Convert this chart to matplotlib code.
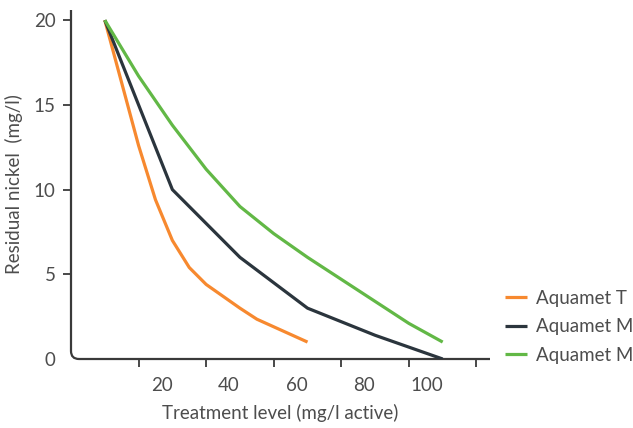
import matplotlib
matplotlib.use("Agg")
import matplotlib.pyplot as plt
from matplotlib.path import Path
from matplotlib.patches import PathPatch

# data
orange_x = [0, 5, 10, 15, 20, 25, 30, 35, 40, 45, 50, 55, 60]
orange_y = [20, 16.3, 12.6, 9.4, 7.0, 5.4, 4.4, 3.7, 3.0, 2.35, 1.9, 1.45, 1.0]

dark_x = [0, 20, 40, 60, 80, 100]
dark_y = [20, 10, 6, 3, 1.4, 0]

green_x = [0, 10, 20, 30, 40, 50, 60, 70, 80, 90, 100]
green_y = [20, 16.7, 13.8, 11.2, 9.0, 7.4, 6.0, 4.7, 3.4, 2.1, 1.0]

labels = ["Aquamet T", "Aquamet M", "Aquamet M"]
colors = ["#F7892F", "#2B353D", "#62B846"]

x_labels = [20, 40, 60, 80, 100]
x_ticks = [10, 30, 50, 70, 90, 110]
y_ticks = [0, 5, 10, 15, 20]

text_color = "#4d4d4d"
axis_color = "#3a3a3a"

plt.rcParams["font.family"] = ["Lato", "DejaVu Sans"]

fig = plt.figure(figsize=(6.33, 4.28), dpi=100)
ax = fig.add_axes([71 / 633, 1 - 359 / 428, (490 - 71) / 633, (359 - 10) / 428])

for xs, ys, lab, col in zip([orange_x, dark_x, green_x], [orange_y, dark_y, green_y], labels, colors):
    ax.plot(xs, ys, color=col, lw=2.3, label=lab, solid_capstyle="butt")

ax.set_xlim(-10, 114)
ax.set_ylim(0, 20.6)

# unlabeled tick marks between the labels
ax.set_xticks(x_ticks, labels=[""] * len(x_ticks))
ax.tick_params(axis="x", which="major", length=6, width=1.3, color=axis_color, direction="out")
ax.set_xticks(x_labels, labels=[str(v) for v in x_labels], minor=True)
ax.tick_params(axis="x", which="minor", length=0, pad=13, labelsize=13.5, labelcolor=text_color)
for t in ax.get_xticklabels(minor=True):
    t.set_ha("right")

ax.set_yticks(y_ticks, labels=[str(v) for v in y_ticks])
ax.tick_params(axis="y", length=6, width=1.3, color=axis_color, pad=5, labelsize=13.5, labelcolor=text_color)
ax.yaxis.get_major_ticks()[0].tick1line.set_visible(False)

for s in ax.spines.values():
    s.set_visible(False)

# axis lines with a rounded corner
w_px, h_px = 490 - 71, 359 - 10
rx, ry = 8 / w_px, 8 / h_px
verts = [(0, 1), (0, ry), (0, 0), (rx, 0), (1, 0)]
codes = [Path.MOVETO, Path.LINETO, Path.CURVE3, Path.CURVE3, Path.LINETO]
ax.add_patch(PathPatch(Path(verts, codes), transform=ax.transAxes, fill=False,
                       edgecolor=axis_color, lw=1.6, clip_on=False))

ax.set_xlabel("Treatment level (mg/l active)", fontsize=13.5, color=text_color, labelpad=7)
ax.set_ylabel("Residual nickel  (mg/l)", fontsize=13.5, color=text_color, labelpad=8)

fig.legend(loc="upper left", bbox_to_anchor=(505 / 633, 1 - 290 / 428), frameon=False,
           fontsize=13.5, labelcolor=text_color, handlelength=1.2, handletextpad=0.45,
           labelspacing=0.6, borderpad=0, borderaxespad=0)

fig.savefig("out.png", dpi=100)
